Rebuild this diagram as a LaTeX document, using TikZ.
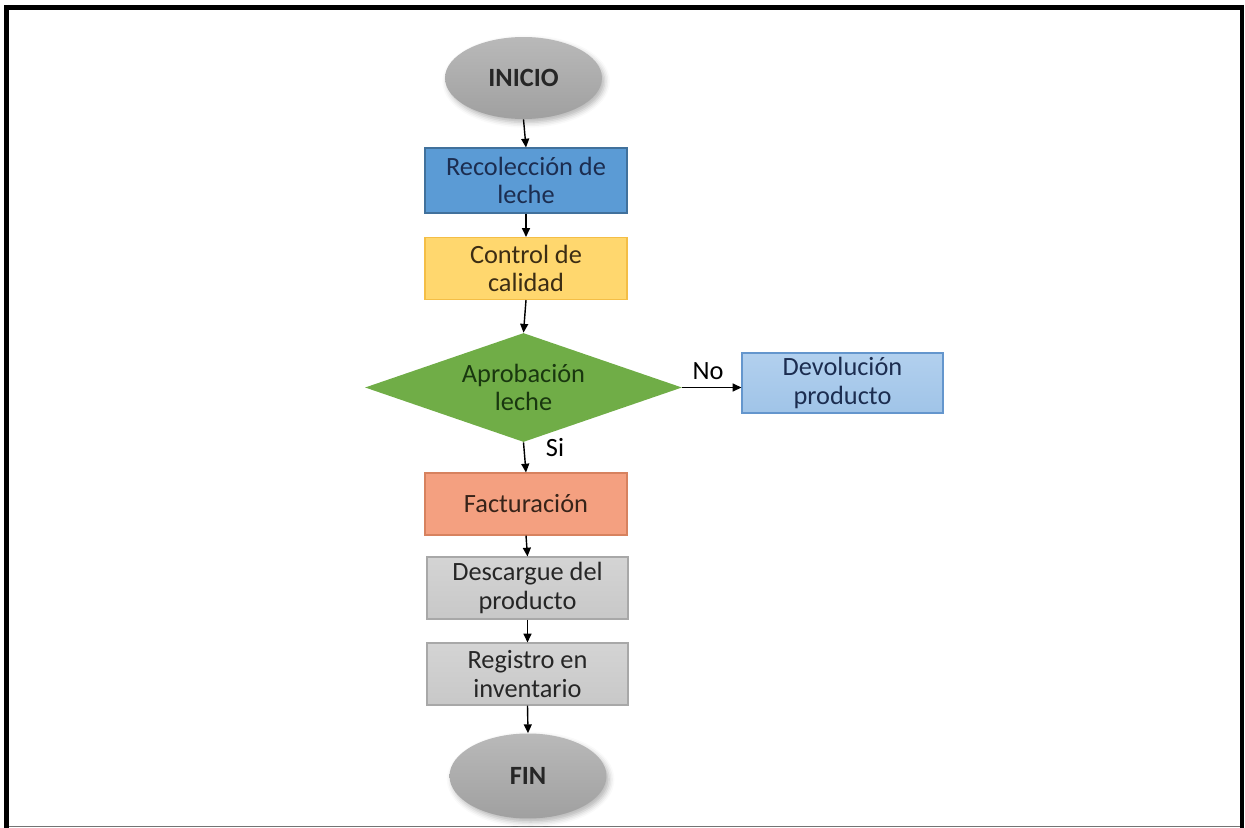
\documentclass[tikz,border=0pt]{standalone}
\usepackage{fontspec}
\setmainfont{Carlito}
\usetikzlibrary{arrows.meta,shapes.geometric,shadows.blur}
\definecolor{termfill}{RGB}{160,160,160}
\definecolor{termtop}{RGB}{185,185,185}
\definecolor{recfill}{RGB}{91,155,213}
\definecolor{recdraw}{RGB}{65,113,156}
\definecolor{rectext}{RGB}{28,45,80}
\definecolor{ctlfill}{RGB}{255,215,110}
\definecolor{ctldraw}{RGB}{244,190,70}
\definecolor{ctltext}{RGB}{60,45,20}
\definecolor{diafill}{RGB}{112,173,71}
\definecolor{diatext}{RGB}{25,55,15}
\definecolor{devfill}{RGB}{160,196,232}
\definecolor{devtop}{RGB}{178,208,238}
\definecolor{devdraw}{RGB}{100,150,205}
\definecolor{factfill}{RGB}{244,160,128}
\definecolor{factdraw}{RGB}{215,130,95}
\definecolor{facttext}{RGB}{55,35,25}
\definecolor{grayfill}{RGB}{200,200,200}
\definecolor{graytop}{RGB}{212,212,212}
\definecolor{graydraw}{RGB}{168,168,168}
\definecolor{graytext}{RGB}{38,38,38}
\begin{document}
\begin{tikzpicture}[x=0.02cm,y=-0.02cm,
  txt/.style={font=\fontsize{15}{16}\selectfont},
  box/.style={txt, draw, line width=0.6pt, minimum width=4.04cm, minimum height=1.24cm, inner sep=0pt, align=center},
  term/.style={ellipse, inner sep=0pt, top color=termtop, bottom color=termfill,
    font=\bfseries\fontsize{15}{16}\selectfont, text=black!85,
    blur shadow={shadow xshift=1.5pt, shadow yshift=-2pt, shadow blur radius=3pt, shadow opacity=30}},
  arr/.style={-{Triangle[length=5pt,width=4.5pt]}, line width=0.8pt},
  lbl/.style={txt, text=black}
]
\useasboundingbox (0,0) rectangle (1245,828);
% frame
\draw[line width=0.1cm] (6.5,5) -- (6.5,828);
\draw[line width=0.1cm] (4,7.5) -- (1244,7.5);
\draw[line width=0.08cm] (1242,5) -- (1242,828);
\draw[line width=0.8pt, black!55] (9,826.5) -- (1240,826.5);

% nodes
\node[term, minimum width=3.14cm, minimum height=1.64cm] (ini) at (523.5,78) {INICIO};
\node[box, fill=recfill, draw=recdraw, text=rectext, minimum height=1.3cm] (rec) at (526,180.5) {Recolección de\\leche};
\node[box, fill=ctlfill, draw=ctldraw, text=ctltext] (ctl) at (526,268.5) {Control de\\calidad};
\node[diamond, aspect=2.9, txt, fill=diafill, text=diatext, align=center, inner sep=0pt,
      minimum width=6.34cm, minimum height=2.18cm] (dia) at (523.5,387.5) {Aprobación\\leche};
\node[box, top color=devtop, bottom color=devfill, draw=devdraw, text=rectext,
      minimum width=4.02cm, minimum height=1.2cm] (dev) at (842.5,383) {Devolución\\producto};
\node[box, fill=factfill, draw=factdraw, text=facttext] (fac) at (526,504) {Facturación};
\node[box, top color=graytop, bottom color=grayfill, draw=graydraw, text=graytext,
      minimum width=4.02cm] (des) at (527.5,588) {Descargue del\\producto};
\node[box, top color=graytop, bottom color=grayfill, draw=graydraw, text=graytext,
      minimum width=4.02cm] (reg) at (527.5,674) {Registro en\\inventario};
\node[term, minimum width=3.14cm, minimum height=1.7cm] (fin) at (528,776) {FIN};

% connectors
\draw[arr] (ini.south) -- (rec.north);
\draw[arr] (rec.south) -- (ctl.north);
\draw[arr] (ctl.south) -- (dia.north);
\draw[arr] (dia.east) -- (dia.east -| dev.west);
\draw[arr] (dia.south) -- (fac.north);
\draw[arr] (fac.south) -- (des.north);
\draw[arr] (des.south) -- (reg.north);
\draw[arr] (reg.south) -- (fin.north);

% labels
\node[lbl] (no) at (708,371) {No};
\node[lbl] (si) at (555,448) {Si};
\end{tikzpicture}
\end{document}
